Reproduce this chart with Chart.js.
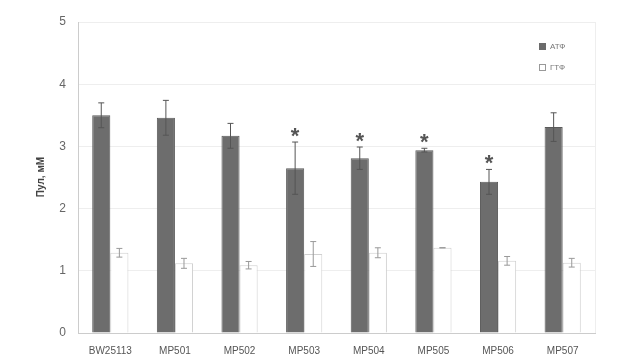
<!DOCTYPE html>
<html><head><meta charset="utf-8">
<script src="https://cdn.jsdelivr.net/npm/chart.js@4"></script>
<style>html,body{margin:0;padding:0;background:#fff}#c{display:block}</style>
</head><body>
<canvas id="c" width="627" height="361"></canvas>
<script>
const categories = ['BW25113','MP501','MP502','MP503','MP504','MP505','MP506','MP507'];
const atp = [3.50, 3.46, 3.17, 2.65, 2.81, 2.94, 2.43, 3.31];
const atpErr = [0.20, 0.28, 0.20, 0.42, 0.18, 0.03, 0.20, 0.23];
const gtp = [1.29, 1.12, 1.09, 1.27, 1.29, 1.37, 1.16, 1.13];
const gtpErr = [0.07, 0.08, 0.06, 0.20, 0.08, 0.00, 0.07, 0.07];
const significant = [false, false, false, true, true, true, true, false];
const yTicks = [0,1,2,3,4,5];
const seriesNames = ['АТФ','ГТФ'];
const yTitle = 'Пул, мМ';

const errPlugin = {
  id: 'errbars',
  afterDatasetsDraw(chart) {
    const ctx = chart.ctx, y = chart.scales.y, ca = chart.chartArea;
    // faint right frame line
    ctx.save();
    ctx.strokeStyle = '#eeeeee'; ctx.lineWidth = 1;
    ctx.beginPath(); ctx.moveTo(ca.right + 0.5, ca.top); ctx.lineTo(ca.right + 0.5, ca.bottom); ctx.stroke();
    ctx.restore();
    const sets = [[atp, atpErr, '#555'], [gtp, gtpErr, '#999']];
    sets.forEach(([vals, errs, col], di) => {
      const meta = chart.getDatasetMeta(di);
      meta.data.forEach((bar, i) => {
        const e = errs[i];
        const x = bar.x;
        const yt = y.getPixelForValue(vals[i] + e), yb = y.getPixelForValue(vals[i] - e);
        ctx.save();
        ctx.strokeStyle = col; ctx.lineWidth = 1;
        ctx.beginPath();
        ctx.moveTo(x, yt); ctx.lineTo(x, yb);
        ctx.moveTo(x - 3, yt); ctx.lineTo(x + 3, yt);
        ctx.moveTo(x - 3, yb); ctx.lineTo(x + 3, yb);
        ctx.stroke();
        ctx.restore();
        if (di === 0 && significant[i]) {
          ctx.save();
          ctx.fillStyle = '#555';
          ctx.font = 'bold 22px "Liberation Sans", Arial, sans-serif';
          ctx.textAlign = 'center'; ctx.textBaseline = 'middle';
          ctx.fillText('*', x, yt - 5);
          ctx.restore();
        }
      });
    });
    // legend
    ctx.save();
    ctx.font = '8px "Liberation Sans", Arial, sans-serif';
    ctx.textBaseline = 'middle';
    ctx.fillStyle = '#6b6b6b';
    ctx.fillRect(539, 43, 7, 7);
    ctx.fillStyle = '#777';
    ctx.fillText(seriesNames[0], 550, 47);
    ctx.strokeStyle = '#999'; ctx.lineWidth = 1;
    ctx.strokeRect(539.5, 64.5, 6, 6);
    ctx.fillText(seriesNames[1], 550, 68);
    // y title
    ctx.translate(41, 177);
    ctx.rotate(-Math.PI / 2);
    ctx.font = 'bold 10px "Liberation Sans", Arial, sans-serif';
    ctx.fillStyle = '#444';
    ctx.textAlign = 'center'; ctx.textBaseline = 'middle';
    ctx.fillText(yTitle, 0, 0);
    ctx.restore();
  }
};

new Chart(document.getElementById('c'), {
  type: 'bar',
  data: {
    labels: categories,
    datasets: [
      { label: seriesNames[0], data: atp, backgroundColor: '#6d6d6d', borderColor: '#5a5a5a', borderWidth: 1,
        categoryPercentage: 0.56, barPercentage: 1.0 },
      { label: seriesNames[1], data: gtp, backgroundColor: '#ffffff', borderColor: '#d0d0d0', borderWidth: 1,
        categoryPercentage: 0.56, barPercentage: 1.0 }
    ]
  },
  options: {
    responsive: false, animation: false,
    layout: { padding: { left: 0, right: 32, top: 22, bottom: 0 } },
    plugins: { legend: { display: false }, tooltip: { enabled: false } },
    scales: {
      x: {
        grid: { display: false },
        border: { color: '#ccc' },
        ticks: { color: '#555', font: { family: '"Liberation Sans", Arial, sans-serif', size: 10 }, maxRotation: 0, padding: 4 },
        afterFit(s) { s.height = 28; }
      },
      y: {
        min: 0, max: 5,
        afterBuildTicks(s) { s.ticks = yTicks.map(v => ({ value: v })); },
        grid: { color: '#eeeeee', tickLength: 0 },
        border: { color: '#ccc' },
        ticks: { color: '#666', padding: 12, font: { family: '"Liberation Sans", Arial, sans-serif', size: 12 } },
        afterFit(s) { s.width = 78; }
      }
    }
  },
  plugins: [errPlugin]
});
</script>
</body></html>
